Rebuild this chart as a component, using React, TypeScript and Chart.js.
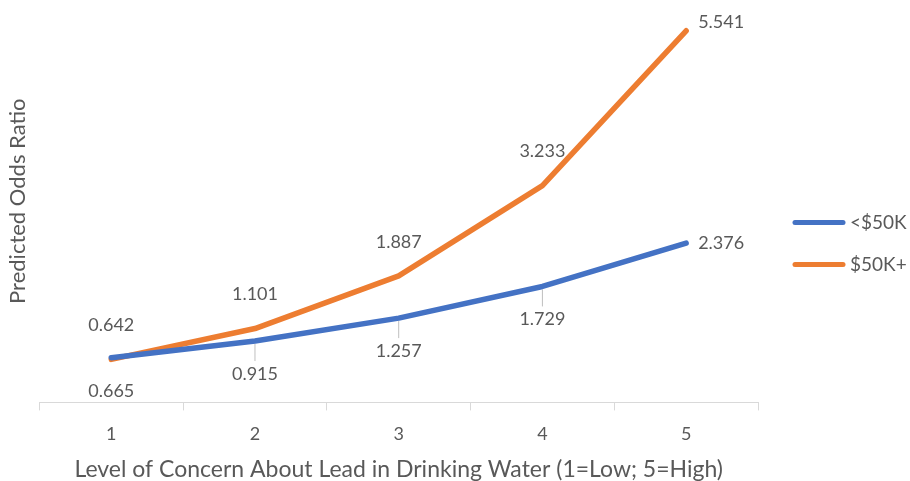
import React, { useEffect, useRef } from "react";
import { Chart, registerables } from "chart.js";

Chart.register(...registerables);

const categories = ["1", "2", "3", "4", "5"];
const seriesNames = ["<$50K", "$50K+"];
const lowIncome = [0.665, 0.915, 1.257, 1.729, 2.376];
const highIncome = [0.642, 1.101, 1.887, 3.233, 5.541];

const BLUE = "#4472C4";
const ORANGE = "#ED7D31";
const TEXT = "#595959";
const FONT = "Lato, 'Open Sans', sans-serif";

const dataLabelPlugin = {
  id: "dataLabels",
  afterDatasetsDraw(chart: any) {
    const ctx = chart.ctx;
    ctx.save();
    ctx.font = `18px ${FONT}`;
    ctx.fillStyle = TEXT;
    chart.data.datasets.forEach((ds: any, di: number) => {
      const meta = chart.getDatasetMeta(di);
      meta.data.forEach((pt: any, i: number) => {
        const v = ds.data[i] as number;
        const txt = v.toFixed(3);
        const last = i === ds.data.length - 1;
        const above = ds.labelSide === "above";
        if (last) {
          ctx.textAlign = "left";
          ctx.textBaseline = "middle";
          ctx.fillText(txt, pt.x + 12, above ? pt.y - 9 : pt.y);
        } else {
          ctx.textAlign = "center";
          ctx.textBaseline = "middle";
          const dy = above ? -34 : 33;
          ctx.fillText(txt, pt.x, pt.y + dy);
          if (!above && i > 0) {
            ctx.strokeStyle = "#BFBFBF";
            ctx.lineWidth = 1;
            ctx.beginPath();
            ctx.moveTo(pt.x, pt.y + 3);
            ctx.lineTo(pt.x, pt.y + dy - 13);
            ctx.stroke();
          }
        }
      });
    });
    ctx.restore();
  },
};

const legendPlugin = {
  id: "sideLegend",
  afterDraw(chart: any) {
    const ctx = chart.ctx;
    const area = chart.chartArea;
    ctx.save();
    ctx.font = `19px ${FONT}`;
    ctx.textAlign = "left";
    ctx.textBaseline = "middle";
    const x0 = area.right + 35;
    const yc = chart.height / 2 + 3;
    chart.data.datasets.forEach((ds: any, i: number) => {
      const y = yc + (i - 0.5) * 42;
      ctx.strokeStyle = ds.borderColor;
      ctx.lineWidth = 5;
      ctx.lineCap = "round";
      ctx.beginPath();
      ctx.moveTo(x0 + 2, y);
      ctx.lineTo(x0 + 50, y);
      ctx.stroke();
      ctx.fillStyle = TEXT;
      ctx.fillText(ds.label, x0 + 57, y);
    });
    ctx.restore();
  },
};

export default function App() {
  const canvasRef = useRef<HTMLCanvasElement | null>(null);

  useEffect(() => {
    document.body.style.margin = "0";
    const canvas = canvasRef.current;
    if (!canvas) return;
    const chart = new Chart(canvas, {
      type: "line",
      data: {
        labels: categories,
        datasets: [
          {
            label: seriesNames[0],
            data: lowIncome,
            borderColor: BLUE,
            backgroundColor: BLUE,
            borderWidth: 5.5,
            pointRadius: 0,
            borderCapStyle: "round",
            borderJoinStyle: "round",
            tension: 0,
            labelSide: "below",
          } as any,
          {
            label: seriesNames[1],
            data: highIncome,
            borderColor: ORANGE,
            backgroundColor: ORANGE,
            borderWidth: 5.5,
            pointRadius: 0,
            borderCapStyle: "round",
            borderJoinStyle: "round",
            tension: 0,
            labelSide: "above",
          } as any,
        ],
      },
      options: {
        animation: false,
        responsive: true,
        maintainAspectRatio: false,
        layout: { padding: { left: 0, right: 152, top: 0, bottom: 0 } },
        plugins: {
          tooltip: { enabled: false },
          legend: { display: false },
        },
        scales: {
          x: {
            offset: true,
            grid: {
              offset: true,
              drawOnChartArea: false,
              drawTicks: true,
              tickLength: 8,
              color: "#D9D9D9",
            },
            border: { display: true, color: "#D9D9D9", width: 1 },
            ticks: { color: TEXT, font: { family: FONT, size: 18 }, padding: 13 },
            title: {
              display: true,
              text: "Level of Concern About Lead in Drinking Water (1=Low; 5=High)",
              color: TEXT,
              font: { family: FONT, size: 23, lineHeight: 1.0 },
              padding: { top: 0, bottom: 0 },
            },
          },
          y: {
            min: 0,
            max: 6,
            grid: { display: false },
            border: { display: false },
            ticks: { display: false },
            title: {
              display: true,
              text: "Predicted Odds Ratio",
              color: TEXT,
              font: { family: FONT, size: 22 },
              padding: { top: 5, bottom: 0 },
            },
          },
        },
      },
      plugins: [dataLabelPlugin, legendPlugin],
    });
    return () => chart.destroy();
  }, []);

  return (
    <div style={{ width: 910, height: 481, position: "relative", background: "#fff" }}>
      <canvas ref={canvasRef} />
    </div>
  );
}
